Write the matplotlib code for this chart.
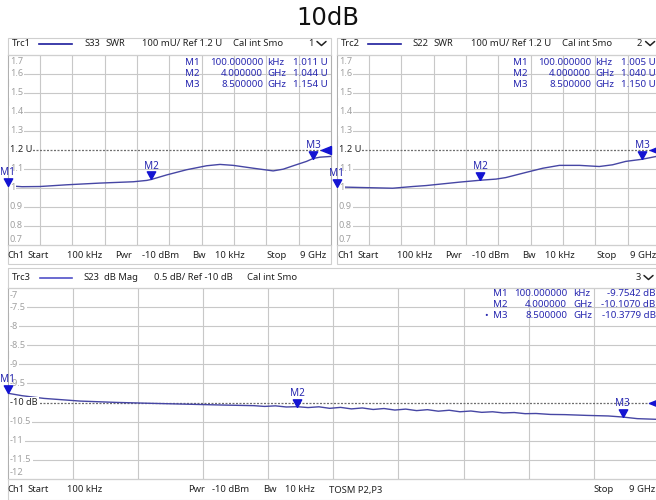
import numpy as np
import matplotlib
matplotlib.use("Agg")
import matplotlib.pyplot as plt
from matplotlib.patches import Rectangle
import matplotlib.transforms as mtransforms

plt.rcParams['font.family'] = ['Noto Sans', 'DejaVu Sans']

TITLE = "10dB"

# ---------------- data (frequency in GHz) ----------------
s33_freq = [0.0001, 0.4, 0.9, 1.64, 2.57, 3.50, 3.87, 4.0, 4.43, 4.98, 5.54, 5.91,
            6.28, 6.84, 7.39, 7.67, 7.95, 8.32, 8.5, 8.69, 9.0]
s33_swr = [1.011, 1.006, 1.007, 1.016, 1.025, 1.032, 1.039, 1.044, 1.068, 1.095, 1.116,
           1.123, 1.118, 1.103, 1.089, 1.098, 1.116, 1.139, 1.154, 1.161, 1.165]

s22_freq = [0.0001, 0.63, 1.56, 2.12, 2.49, 3.42, 4.0, 4.44, 4.71, 5.27, 5.74, 6.20,
            6.76, 7.31, 7.68, 8.05, 8.5, 8.9, 9.0]
s22_swr = [1.005, 1.002, 0.998, 1.007, 1.012, 1.030, 1.040, 1.046, 1.054, 1.081, 1.103,
           1.118, 1.118, 1.112, 1.121, 1.139, 1.150, 1.165, 1.168]

s23_freq = [0.0001, 0.2, 0.5, 1.0, 1.5, 2.0, 2.66, 3.0, 3.40, 3.55, 3.70, 3.85, 4.0,
            4.15, 4.30, 4.45, 4.60, 4.75, 4.90, 5.05, 5.20, 5.35, 5.50, 5.65, 5.80,
            5.95, 6.10, 6.25, 6.40, 6.55, 6.70, 6.85, 7.00, 7.15, 7.30, 7.50, 7.70,
            8.00, 8.30, 8.50, 8.70, 9.00]
s23_db = [-9.7542, -9.82, -9.89, -9.96, -9.995, -10.02, -10.05, -10.065, -10.080,
          -10.100, -10.085, -10.115, -10.107, -10.130, -10.110, -10.150, -10.125,
          -10.165, -10.140, -10.180, -10.155, -10.195, -10.170, -10.210, -10.185,
          -10.225, -10.200, -10.240, -10.220, -10.255, -10.240, -10.270, -10.260,
          -10.290, -10.285, -10.310, -10.315, -10.335, -10.350, -10.3779, -10.420,
          -10.440]

marker_names = ["M1", "M2", "M3"]
marker_freq = [0.0001, 4.0, 8.5]
marker_freq_text = ["100.000000", "4.000000", "8.500000"]
marker_freq_unit = ["kHz", "GHz", "GHz"]
s33_marker = [1.011, 1.044, 1.154]
s22_marker = [1.005, 1.040, 1.150]
s23_marker = [-9.7542, -10.1070, -10.3779]

swr_ticks = [1.7, 1.6, 1.5, 1.4, 1.3, 1.2, 1.1, 1.0, 0.9, 0.8, 0.7]
swr_tick_labels = ["1.7", "1.6", "1.5", "1.4", "1.3", "1.2 U", "1.1", "1", "0.9", "0.8", "0.7"]
db_ticks = [-7, -7.5, -8, -8.5, -9, -9.5, -10, -10.5, -11, -11.5, -12]
db_tick_labels = ["-7", "-7.5", "-8", "-8.5", "-9", "-9.5", "-10 dB", "-10.5", "-11", "-11.5", "-12"]

# ---------------- styling ----------------
W, H = 656, 500
TRACE = '#4646a4'
MARK = '#1414d2'
MTXT = '#2828b0'
GRID = '#c8c8c8'
SPINE = '#b0b0b0'
TICKC = '#a0a0a0'
TXT = '#222222'
FS = 6.8

fig = plt.figure(figsize=(W / 100, H / 100), dpi=100)
fig.patch.set_facecolor('white')


def ax_px(x0, y0, x1, y1):
    return fig.add_axes([x0 / W, 1 - y1 / H, (x1 - x0) / W, (y1 - y0) / H])


down_tri = [(0, 0), (-0.55, 1), (0.55, 1), (0, 0)]
left_tri = [(0, 0.4), (-1, 0), (0, -0.4), (0, 0.4)]


def setup_panel(ax, ylim, ticks, labels, ref, width_px):
    ax.set_xlim(0, 9)
    ax.set_ylim(*ylim)
    ax.set_facecolor('white')
    ax.set_xticks([0.9 * i for i in range(1, 10)])
    ax.set_yticks([t for t in ticks if t != ref and t not in ylim])
    ax.tick_params(length=0, labelleft=False, labelbottom=False)
    ax.grid(True, color=GRID, lw=0.8)
    for s in ax.spines.values():
        s.set_color(SPINE)
        s.set_linewidth(0.8)
    ax.axhline(ref, color='#6e6e6e', lw=0.9, ls=(0, (1.6, 1.2)), zorder=2.5)
    tr = ax.get_yaxis_transform()
    xo = 2.3 / width_px
    for t, lab in zip(ticks, labels):
        if t == max(ylim):
            va, yy = 'top', t
            off = mtransforms.offset_copy(tr, fig=fig, y=-3, units='dots')
        elif t == min(ylim):
            va, yy = 'bottom', t
            off = mtransforms.offset_copy(tr, fig=fig, y=1.5, units='dots')
        else:
            va, yy = 'center', t
            off = tr
        col = TXT if t == ref else TICKC
        bb = dict(boxstyle='square,pad=0.12', fc='white', ec='none') if va == 'center' else None
        ax.text(xo, yy, lab, transform=off, ha='left', va=va, fontsize=6.6,
                color=col, bbox=bb, zorder=4)
    # reference level arrow on right edge
    ax.plot([1.0], [ref], marker=left_tri, markersize=14.4, color=MARK,
            transform=tr, clip_on=False, zorder=6, ls='none')


def draw_markers(ax, values):
    for name, f, v in zip(marker_names, marker_freq, values):
        ax.plot([f], [v], marker=down_tri, markersize=11, color=MARK,
                clip_on=False, zorder=6, ls='none')
        ax.annotate(name, (f, v), xytext=(0, 9.6), textcoords='offset points',
                    ha='center', va='center', fontsize=7.2, color=MTXT,
                    fontweight='medium', zorder=7, annotation_clip=False)


# ---------------- panels ----------------
ax1 = ax_px(7.6, 54.5, 331, 245)
setup_panel(ax1, (0.7, 1.7), swr_ticks, swr_tick_labels, 1.2, 331 - 7.6)
ax1.plot(s33_freq, s33_swr, color=TRACE, lw=1.0, zorder=3)
draw_markers(ax1, s33_marker)

ax2 = ax_px(336.6, 54.5, 660, 245)
setup_panel(ax2, (0.7, 1.7), swr_ticks, swr_tick_labels, 1.2, 660 - 336.6)
ax2.plot(s22_freq, s22_swr, color=TRACE, lw=1.0, zorder=3)
draw_markers(ax2, s22_marker)

ax3 = ax_px(7.7, 288, 659, 479)
setup_panel(ax3, (-12, -7), db_ticks, db_tick_labels, -10, 659 - 7.7)
ax3.plot(s23_freq, s23_db, color=TRACE, lw=1.0, zorder=3)
draw_markers(ax3, s23_marker)

# ---------------- overlay (pixel coordinates) ----------------
ov = fig.add_axes([0, 0, 1, 1], facecolor='none')
ov.set_xlim(0, W)
ov.set_ylim(H, 0)
ov.axis('off')

for (x0, y0, x1, y1) in [(7.6, 38, 331, 54.5), (336.6, 38, 660, 54.5),
                         (7.6, 245, 331, 264), (336.6, 245, 660, 264),
                         (7.7, 268, 659, 288), (7.7, 479, 659, 499.5)]:
    ov.add_patch(Rectangle((x0, y0), x1 - x0, y1 - y0, fill=False,
                           ec='#cfcfcf', lw=0.8))

ov.text(328, 18, TITLE, ha='center', va='center', fontsize=17.5,
        family='DejaVu Sans', color='#111111')


def t(x, y, s, ha='left', color=TXT, fs=FS):
    ov.text(x, y, s, ha=ha, va='center', fontsize=fs, color=color)


def chevron(x, y):
    ov.plot([x, x + 4.5, x + 9], [y - 2, y + 2, y - 2], color=TXT, lw=1.1,
            solid_capstyle='round')


# headers
for dx, trc, sp, num in [(0, "Trc1", "S33", "1"), (328.6, "Trc2", "S22", "2")]:
    y = 43.5
    t(12 + dx, y, trc)
    ov.plot([39 + dx, 72 + dx], [y, y], color='#1c1c9c', lw=1.2)
    t(84 + dx, y, sp)
    t(105 + dx, y, "SWR")
    t(142 + dx, y, "100 mU/ Ref 1.2 U")
    t(233 + dx, y, "Cal int Smo")
    t(308 + dx, y, num)
    chevron(317 + dx, y)

y = 277.5
t(12, y, "Trc3")
ov.plot([40, 72], [y, y], color='#5050c8', lw=1.2)
t(83, y, "S23")
t(104, y, "dB Mag")
t(154, y, "0.5 dB/ Ref -10 dB")
t(247, y, "Cal int Smo")
t(636, y, "3")
chevron(644, y)

# footers
for dx in (0, 330):
    y = 255
    t(7 + dx, y, "Ch1")
    t(27 + dx, y, "Start")
    t(67 + dx, y, "100 kHz")
    t(115 + dx, y, "Pwr")
    t(142 + dx, y, "-10 dBm")
    t(192 + dx, y, "Bw")
    t(215 + dx, y, "10 kHz")
    t(287 + dx, y, "Stop", ha='right')
    t(326 + dx, y, "9 GHz", ha='right')

y = 490
t(7, y, "Ch1")
t(27, y, "Start")
t(67, y, "100 kHz")
t(188, y, "Pwr")
t(212, y, "-10 dBm")
t(263, y, "Bw")
t(285, y, "10 kHz")
t(329, y, "TOSM P2,P3")
t(614, y, "Stop", ha='right')
t(655, y, "9 GHz", ha='right')

# marker readouts
RFS = 7.0
rows_top = [62.5, 73.3, 84.1]
for (mx, fx, ux, vx, vals) in [(185, 263, 267, 328, s33_marker),
                               (513, 591, 595, 655.5, s22_marker)]:
    for i in range(3):
        y = rows_top[i]
        t(mx, y, marker_names[i], color=MTXT, fs=RFS)
        t(fx, y, marker_freq_text[i], ha='right', color=MTXT, fs=RFS)
        t(ux, y, marker_freq_unit[i], color=MTXT, fs=RFS)
        t(vx, y, f"{vals[i]:.3f} U", ha='right', color=MTXT, fs=RFS)

rows_bot = [294.0, 304.7, 315.4]
for i in range(3):
    y = rows_bot[i]
    t(493, y, marker_names[i], color=MTXT, fs=RFS)
    t(567, y, marker_freq_text[i], ha='right', color=MTXT, fs=RFS)
    t(573, y, marker_freq_unit[i], color=MTXT, fs=RFS)
    t(655.5, y, f"{s23_marker[i]:.4f} dB", ha='right', color=MTXT, fs=RFS)
t(484, rows_bot[2], "•", color=MTXT, fs=RFS)

fig.savefig("out.png", dpi=100, facecolor='white')
